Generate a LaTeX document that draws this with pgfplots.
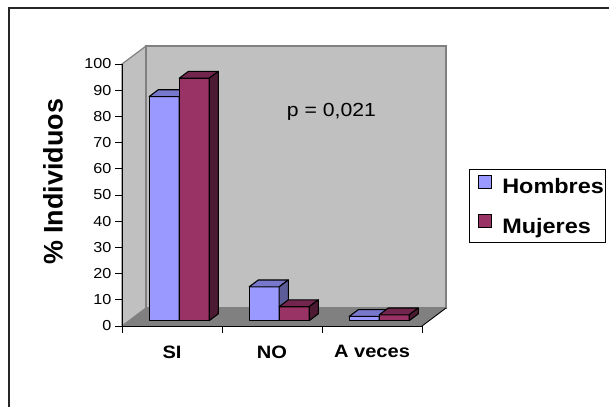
\documentclass[border=0pt]{standalone}
\usepackage{fontspec}
\setmainfont{Liberation Sans}[FakeStretch=1.12]
\newfontfamily\labelfont{Liberation Sans}
\usepackage{pgfplots}
\usepackage{pgfplotstable}
\pgfplotsset{compat=1.18}

\definecolor{homfront}{HTML}{9999FF}
\definecolor{homtop}{HTML}{7777CC}
\definecolor{homside}{HTML}{5C5C99}
\definecolor{mujfront}{HTML}{993366}
\definecolor{mujtop}{HTML}{73264D}
\definecolor{mujside}{HTML}{4D1A33}
\definecolor{wall}{HTML}{C0C0C0}
\definecolor{floorgray}{HTML}{808080}

% percentage of individuals per answer
\pgfplotstableread{
cat hombres mujeres
0   85.5    92.5
1   12.9    5.3
2   1.6     2.2
}\bardata

% depth of the box (category units, percent units)
\def\dx{0.24}
\def\dy{6.87}
% slice of the depth taken by the bars
\def\fd{0.30}
\def\bd{0.68}

% one 3-D bar: left edge, right edge, value, style prefix
\newcommand\cuboid[4]{%
  \pgfmathsetmacro\xa{#1+\fd*\dx}%
  \pgfmathsetmacro\xb{#2+\fd*\dx}%
  \pgfmathsetmacro\xc{#2+\bd*\dx}%
  \pgfmathsetmacro\xd{#1+\bd*\dx}%
  \pgfmathsetmacro\ya{\fd*\dy}%
  \pgfmathsetmacro\yb{#3+\fd*\dy}%
  \pgfmathsetmacro\yc{\bd*\dy}%
  \pgfmathsetmacro\yd{#3+\bd*\dy}%
  \edef\face{\noexpand\addplot[#4 front] coordinates {(\xa,\ya) (\xb,\ya) (\xb,\yb) (\xa,\yb)} -- cycle;}\face
  \edef\face{\noexpand\addplot[#4 top] coordinates {(\xa,\yb) (\xb,\yb) (\xc,\yd) (\xd,\yd)} -- cycle;}\face
  \edef\face{\noexpand\addplot[#4 side] coordinates {(\xb,\ya) (\xc,\yc) (\xc,\yd) (\xb,\yb)} -- cycle;}\face
}

\pgfplotsset{
  face/.style={forget plot, mark=none, draw=black, line width=1.1bp, line join=round},
  hom front/.style={face, fill=homfront},
  hom top/.style={face, fill=homtop},
  hom side/.style={face, fill=homside},
  muj front/.style={face, fill=mujfront},
  muj top/.style={face, fill=mujtop},
  muj side/.style={face, fill=mujside},
}

\begin{document}
\begin{tikzpicture}
\useasboundingbox (0bp,0bp) rectangle (609bp,-407bp);
\draw[line width=1.2bp, black!85] (9bp,-407bp) -- (9bp,-8bp) -- (609bp,-8bp);
\begin{axis}[
  at={(122bp,-326bp)}, anchor=south west,
  width=300bp, height=262bp, scale only axis,
  xmin=-0.5, xmax=2.5, ymin=0, ymax=100,
  clip=false, axis on top,
  axis x line*=bottom, axis y line*=left,
  axis line style={black, line width=0.9bp},
  xtick={-0.5,0.5,1.5,2.5},
  xticklabels={SI,NO,A veces,{}},
  ytick={0,10,...,100},
  tick align=outside,
  major tick length=7bp,
  tick style={black, line width=0.8bp},
  /pgf/number format/assume math mode=true,
  yticklabel style={font=\fontsize{14.5}{16}\selectfont},
  xticklabel style={font=\fontsize{18}{20}\selectfont\bfseries, xshift=50bp, yshift=-9bp},
  ylabel={\% Individuos},
  ylabel style={font=\labelfont\fontsize{27}{30}\selectfont\bfseries,
    at={(axis description cs:-0.23,0.55)}, anchor=center},
  legend style={at={(axis description cs:1.157,0.598)}, anchor=north west,
    draw=black, line width=0.8bp, fill=white,
    font=\fontsize{21}{24}\selectfont\bfseries,
    inner xsep=0bp, inner ysep=5bp, row sep=17bp,
    nodes={inner sep=2bp}},
  legend cell align=left,
  legend image code/.code={
    \path (-8bp,0bp) (22bp,0bp);
    \draw[#1, draw=black, line width=0.8bp] (0bp,-1bp) rectangle (13bp,12bp);
  },
]
% box: side wall, back wall and floor
\fill[wall, draw=floorgray, line width=1.2bp]
  (-0.5,0) -- (-0.5+\dx,\dy) -- (-0.5+\dx,100+\dy) -- (-0.5,100) -- cycle;
\fill[wall, draw=floorgray, line width=1.2bp]
  (-0.5+\dx,\dy) rectangle (2.5+\dx,100+\dy);
\fill[floorgray] (-0.5,0) -- (2.5,0) -- (2.5+\dx,\dy) -- (-0.5+\dx,\dy) -- cycle;
\draw[black, line width=0.9bp] (2.5,0) -- (2.5+\dx,\dy);

\pgfplotsinvokeforeach{0,1,2}{
  \pgfplotstablegetelem{#1}{hombres}\of\bardata \let\vh\pgfplotsretval
  \pgfplotstablegetelem{#1}{mujeres}\of\bardata \let\vm\pgfplotsretval
  \cuboid{#1-0.3}{#1}{\vh}{hom}
  \cuboid{#1}{#1+0.3}{\vm}{muj}
}

\addlegendimage{fill=homfront}
\addlegendentry{Hombres}
\addlegendimage{fill=mujfront}
\addlegendentry{Mujeres}

\node[font=\fontsize{19}{22}\selectfont] at (axis cs:1.595,81.7) {p = 0,021};
\end{axis}
\end{tikzpicture}
\end{document}
